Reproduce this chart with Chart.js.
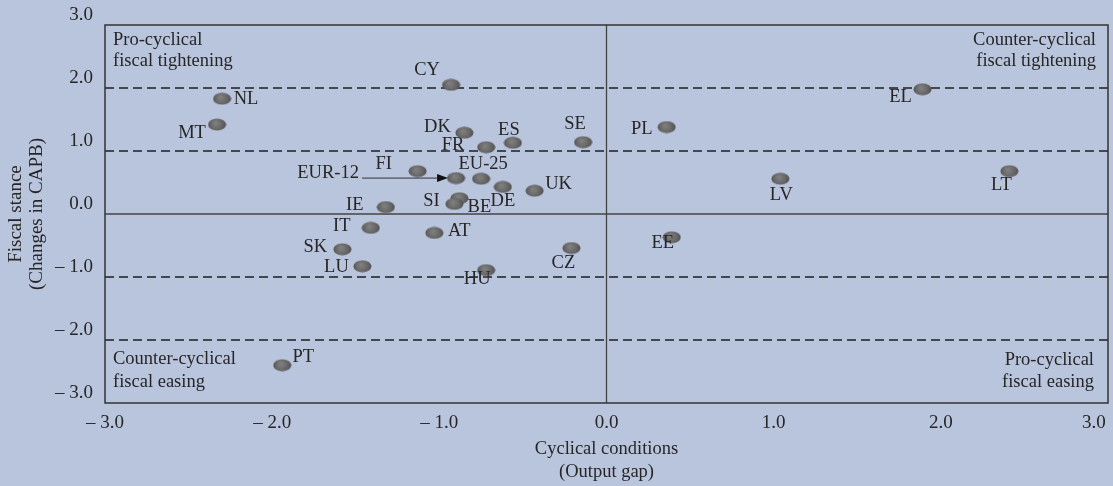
<!DOCTYPE html>
<html>
<head>
<meta charset="utf-8">
<script src="https://cdn.jsdelivr.net/npm/chart.js@4.4.1/dist/chart.umd.min.js"></script>
<style>
  html, body { margin: 0; padding: 0; background: #b9c4dd; }
  #wrap { width: 1113px; height: 486px; position: relative; }
</style>
</head>
<body>
<div id="wrap"><canvas id="chart"></canvas></div>
<script>
// country codes, output gap (x) and change in CAPB (y)
const countries = ["CY", "NL", "MT", "DK", "ES", "FR", "SE", "FI", "EUR-12", "EU-25", "DE", "UK", "SI", "BE",
  "IE", "IT", "AT", "SK", "LU", "HU", "CZ", "PT", "PL", "EL", "LV", "LT", "EE"];
const outputGap = [-0.93, -2.30, -2.33, -0.85, -0.56, -0.72, -0.14, -1.13, -0.90, -0.75, -0.62, -0.43, -0.88, -0.91,
  -1.32, -1.41, -1.03, -1.58, -1.46, -0.72, -0.21, -1.94, 0.36, 1.89, 1.04, 2.41, 0.39];
const capbChange = [2.05, 1.83, 1.42, 1.29, 1.13, 1.06, 1.14, 0.68, 0.57, 0.56, 0.43, 0.37, 0.25, 0.16,
  0.11, -0.22, -0.30, -0.56, -0.83, -0.89, -0.54, -2.40, 1.38, 1.98, 0.56, 0.68, -0.37];

const xTickLabels = ["\u2013 3.0", "\u2013 2.0", "\u2013 1.0", "0.0", "1.0", "2.0", "3.0\u2003\u2002"];
const yTickLabels = ["\u2013 3.0", "\u2013 2.0", "\u2013 1.0", "0.0", "1.0", "2.0", "3.0"];
const dashedLevels = [2, 1, -1, -2];

// where each label sits relative to its marker (pixels)
const labelOffsets = {
  "CY": [-24, -15], "NL": [24, 0], "MT": [-25, 9], "DK": [-27, -6], "ES": [-4, -13], "FR": [-33, -2],
  "SE": [-8, -18], "FI": [-34, -7], "EUR-12": [-128, -5], "EU-25": [2, -15], "DE": [0, 14], "UK": [24, -7],
  "SI": [-28, 3], "BE": [25, 3], "IE": [-31, -2], "IT": [-29, -2], "AT": [25, -2], "SK": [-27, -2],
  "LU": [-26, 1], "HU": [-9, 9], "CZ": [-8, 15], "PT": [21, -8], "PL": [-25, 2], "EL": [-22, 8],
  "LV": [1, 16], "LT": [-8, 14], "EE": [-9, 6]
};

const SERIF = "'Liberation Serif', 'DejaVu Serif', serif";
const TEXT = "#262626";

// shaded grey ellipse used as the marker
function makeMarker() {
  const c = document.createElement("canvas");
  c.width = 19; c.height = 13;
  const g = c.getContext("2d");
  const grad = g.createRadialGradient(8, 5, 1, 9.5, 6.5, 10);
  grad.addColorStop(0, "#7e7e7e");
  grad.addColorStop(0.6, "#646464");
  grad.addColorStop(1, "#474747");
  g.fillStyle = grad;
  g.beginPath();
  g.ellipse(9.5, 6.5, 9, 6, 0, 0, Math.PI * 2);
  g.fill();
  return c;
}

const refLines = dashedLevels.map((lv) => ({
  type: "line",
  data: [{ x: -3, y: lv }, { x: 3, y: lv }],
  borderColor: "#1e1e1e",
  borderWidth: 1.3,
  borderDash: [9, 5],
  pointRadius: 0,
  order: 3,
}));

const zeroLines = [
  { data: [{ x: -3, y: 0 }, { x: 3, y: 0 }] },
  { data: [{ x: 0, y: -3 }, { x: 0, y: 3 }] },
].map((d) => ({
  type: "line",
  data: d.data,
  borderColor: "#444",
  borderWidth: 1.3,
  pointRadius: 0,
  order: 3,
}));

const background = {
  id: "background",
  beforeDraw(chart) {
    const ctx = chart.ctx;
    ctx.save();
    ctx.fillStyle = "#b9c4dd";
    ctx.fillRect(0, 0, chart.width, chart.height);
    ctx.restore();
  },
};

const decorations = {
  id: "decorations",
  afterDatasetsDraw(chart) {
    const { ctx, chartArea: a, scales } = chart;
    ctx.save();
    // frame
    ctx.strokeStyle = "#333";
    ctx.lineWidth = 1.5;
    ctx.strokeRect(a.left, a.top, a.right - a.left, a.bottom - a.top);

    // point labels
    ctx.font = "18.5px " + SERIF;
    ctx.fillStyle = TEXT;
    ctx.textAlign = "center";
    ctx.textBaseline = "middle";
    countries.forEach((c, i) => {
      const px = scales.x.getPixelForValue(outputGap[i]);
      const py = scales.y.getPixelForValue(capbChange[i]);
      const off = labelOffsets[c];
      ctx.fillText(c, px + off[0], py + off[1]);
    });

    // EUR-12 arrow
    const ei = countries.indexOf("EUR-12");
    const ex = scales.x.getPixelForValue(outputGap[ei]);
    const ey = scales.y.getPixelForValue(capbChange[ei]);
    ctx.strokeStyle = "#333";
    ctx.lineWidth = 1;
    ctx.beginPath();
    ctx.moveTo(ex - 94, ey);
    ctx.lineTo(ex - 14, ey);
    ctx.stroke();
    ctx.fillStyle = "#111";
    ctx.beginPath();
    ctx.moveTo(ex - 8, ey);
    ctx.lineTo(ex - 19, ey - 4);
    ctx.lineTo(ex - 19, ey + 4);
    ctx.closePath();
    ctx.fill();

    // quadrant captions
    ctx.fillStyle = TEXT;
    ctx.textBaseline = "middle";
    ctx.textAlign = "left";
    ctx.fillText("Pro-cyclical", a.left + 8, a.top + 15);
    ctx.fillText("fiscal tightening", a.left + 8, a.top + 36);
    ctx.fillText("Counter-cyclical", a.left + 8, a.bottom - 44);
    ctx.fillText("fiscal easing", a.left + 8, a.bottom - 21);
    ctx.textAlign = "right";
    ctx.fillText("Counter-cyclical", a.right - 12, a.top + 15);
    ctx.fillText("fiscal tightening", a.right - 12, a.top + 36);
    ctx.fillText("Pro-cyclical", a.right - 14, a.bottom - 43);
    ctx.fillText("fiscal easing", a.right - 14, a.bottom - 21);
    ctx.restore();
  },
};

new Chart(document.getElementById("chart"), {
  type: "scatter",
  data: {
    datasets: [
      {
        label: "Countries",
        data: countries.map((c, i) => ({ x: outputGap[i], y: capbChange[i] })),
        pointStyle: makeMarker(),
        order: 1,
      },
      ...refLines,
      ...zeroLines,
    ],
  },
  options: {
    responsive: true,
    maintainAspectRatio: false,
    animation: false,
    layout: { padding: { top: 25, right: 3, left: 0, bottom: 0 } },
    plugins: {
      legend: { display: false },
      tooltip: { enabled: false },
    },
    scales: {
      x: {
        type: "linear",
        min: -3,
        max: 3,
        afterFit: (s) => { s.height = 83; s.paddingLeft = 0; s.paddingRight = 0; },
        grid: { display: false, drawTicks: false },
        border: { display: false },
        ticks: {
          stepSize: 1,
          padding: 9,
          color: TEXT,
          font: { family: SERIF, size: 19 },
          callback: (v, i) => xTickLabels[i],
        },
        title: {
          display: true,
          text: ["Cyclical conditions", "(Output gap)"],
          color: TEXT,
          font: { family: SERIF, size: 18.5, lineHeight: 1.26 },
          padding: { bottom: 2 },
        },
      },
      y: {
        type: "linear",
        min: -3,
        max: 3,
        afterFit: (s) => { s.width = 105; s.paddingTop = 0; s.paddingBottom = 0; },
        grid: { display: false, drawTicks: false },
        border: { display: false },
        ticks: {
          stepSize: 1,
          padding: 12,
          labelOffset: -10,
          color: TEXT,
          font: { family: SERIF, size: 19 },
          callback: (v, i) => yTickLabels[i],
        },
        title: {
          display: true,
          text: ["Fiscal stance", "(Changes in CAPB)"],
          color: TEXT,
          font: { family: SERIF, size: 19, lineHeight: 1.1 },
          padding: { top: 6 },
        },
      },
    },
  },
  plugins: [background, decorations],
});
</script>
</body>
</html>
